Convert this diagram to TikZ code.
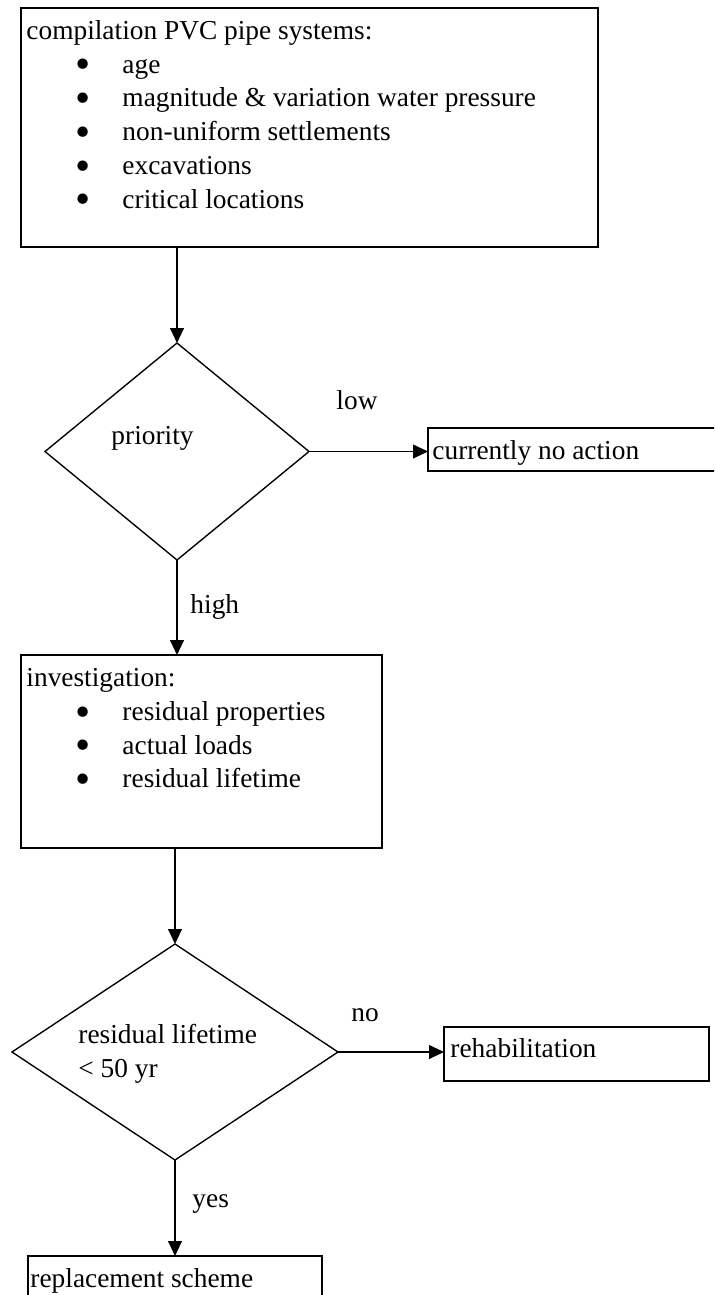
\documentclass[tikz,border=0pt]{standalone}
\usepackage{fontspec}
\setmainfont{Liberation Serif}
\usepackage{tikz}
\usetikzlibrary{arrows.meta, positioning, shapes.geometric}

% one pixel of the layout grid
\newcommand\pxl{0.4384pt}
% bullet line inside a box
\newcommand\blt{\smash{\raisebox{-2.5pt}{\fontsize{19}{19}\selectfont\textbullet}}}
\newcommand\itm[1]{\hspace*{21.4pt}\makebox[20.7pt][l]{\blt}#1}

\begin{document}
\begin{tikzpicture}[x=0.4384pt, y=-0.4384pt,
      box/.style={rectangle, draw, line width=0.6pt, inner sep=0pt, outer sep=0pt, anchor=north west},
      decision/.style={diamond, draw, line width=0.6pt, inner sep=0pt, outer sep=0pt},
      txt/.style={inner sep=0pt, align=left, anchor=north west, font=\fontsize{12}{14.8}\selectfont},
      lbl/.style={inner sep=0pt, anchor=base west, font=\fontsize{12}{14.8}\selectfont},
      flow/.style={-{Triangle[length=6.5pt, width=6pt]}, line width=0.6pt}]

      \useasboundingbox (0,0) rectangle (714,1295);
      \clip (0,0) rectangle (714,1295);

      % Boxes
      \node[box, minimum width=577*\pxl, minimum height=239*\pxl] (comp) at (21,8) {};
      \node[box, minimum width=300*\pxl, minimum height=43*\pxl] (noact) at (428,428) {};
      \node[box, minimum width=361*\pxl, minimum height=193*\pxl] (invest) at (21,655) {};
      \node[box, minimum width=265*\pxl, minimum height=54*\pxl] (rehab) at (444,1027) {};
      \node[box, minimum width=294*\pxl, minimum height=60*\pxl] (replace) at (28,1256) {};

      % Decisions
      \node[decision, minimum width=264*\pxl, minimum height=217*\pxl] (prio) at (177,451.5) {};
      \node[decision, minimum width=326*\pxl, minimum height=216*\pxl] (life) at (175,1052) {};

      % Texts
      \node[txt] (comptxt) at (26,20) {compilation PVC pipe systems:\\
        \itm{age}\\
        \itm{magnitude \& variation water pressure}\\
        \itm{non-uniform settlements}\\
        \itm{excavations}\\
        \itm{critical locations}};
      \node[lbl] (priotxt) at (111,444) {priority};
      \node[lbl] (noacttxt) at (432,459) {currently no action};
      \node[txt] (investtxt) at (26,668) {investigation:\\
        \itm{residual properties}\\
        \itm{actual loads}\\
        \itm{residual lifetime}};
      \node[txt] (lifetxt) at (78,1024) {residual lifetime\\< 50 yr};
      \node[lbl] (rehabtxt) at (450,1057) {rehabilitation};
      \node[lbl] (replacetxt) at (30,1287) {replacement scheme};

      % Arrow labels
      \node[lbl] (low) at (336,409) {low};
      \node[lbl] (high) at (190,613) {high};
      \node[lbl] (no) at (351,1021) {no};
      \node[lbl] (yes) at (192,1207) {yes};

      % Arrows
      \draw[flow] (comp.south -| prio.north) -- (prio.north);
      \draw[flow] (prio.east) -- (prio.east -| noact.west);
      \draw[flow] (prio.south) -- (prio.south |- invest.north);
      \draw[flow] (invest.south -| life.north) -- (life.north);
      \draw[flow] (life.east) -- (life.east -| rehab.west);
      \draw[flow] (life.south) -- (life.south |- replace.north);
    \end{tikzpicture}
\end{document}
